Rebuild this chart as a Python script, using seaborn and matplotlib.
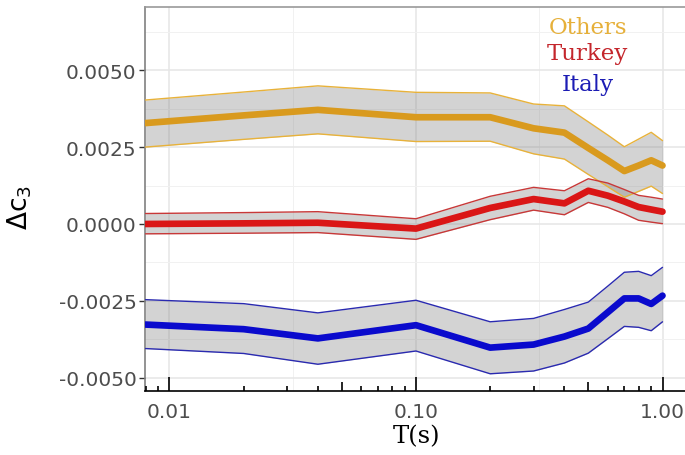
import numpy as np
import pandas as pd
import matplotlib
matplotlib.use("Agg")
import matplotlib.pyplot as plt
import matplotlib.transforms as mtrans
from matplotlib.ticker import FixedLocator, FixedFormatter, NullFormatter
import seaborn as sns

# Spectral periods (s)
periods = [0.008, 0.02, 0.04, 0.1, 0.2, 0.3, 0.4, 0.5, 0.6, 0.7, 0.8, 0.9, 1.0]

# Δc3 per region: mean estimate and confidence band
others_mean = [0.00328, 0.00353, 0.00371, 0.00347, 0.00347, 0.00311, 0.00297,
               0.00247, 0.00207, 0.00172, 0.00190, 0.00207, 0.00190]
others_upper = [0.00403, 0.00429, 0.00449, 0.00428, 0.00426, 0.00390, 0.00384,
                0.00332, 0.00289, 0.00251, 0.00276, 0.00298, 0.00271]
others_lower = [0.00250, 0.00275, 0.00293, 0.00268, 0.00269, 0.00228, 0.00211,
                0.00161, 0.00121, 0.00087, 0.00106, 0.00123, 0.00099]

turkey_mean = [0.00000, 0.00002, 0.00004, -0.00015, 0.00052, 0.00081, 0.00067,
               0.00108, 0.00092, 0.00073, 0.00055, 0.00047, 0.00040]
turkey_upper = [0.00034, 0.00037, 0.00040, 0.00017, 0.00090, 0.00119, 0.00108,
                0.00147, 0.00133, 0.00112, 0.00093, 0.00087, 0.00081]
turkey_lower = [-0.00032, -0.00030, -0.00028, -0.00050, 0.00014, 0.00045, 0.00030,
                0.00070, 0.00054, 0.00033, 0.00012, 0.00006, 0.00001]

italy_mean = [-0.00327, -0.00342, -0.00372, -0.00329, -0.00402, -0.00392, -0.00366,
              -0.00340, -0.00287, -0.00242, -0.00242, -0.00260, -0.00233]
italy_upper = [-0.00246, -0.00259, -0.00289, -0.00248, -0.00318, -0.00307, -0.00278,
               -0.00254, -0.00202, -0.00157, -0.00154, -0.00168, -0.00141]
italy_lower = [-0.00405, -0.00421, -0.00456, -0.00413, -0.00487, -0.00478, -0.00452,
               -0.00420, -0.00373, -0.00333, -0.00336, -0.00347, -0.00318]

regions = ["Others", "Turkey", "Italy"]
line_colors = {"Others": "#D99A1E", "Turkey": "#DA1616", "Italy": "#0A0ACD"}
edge_colors = {"Others": "#E8B23A", "Turkey": "#C83838", "Italy": "#2A2AB0"}
label_colors = {"Others": "#E6B03A", "Turkey": "#C4262C", "Italy": "#1C1CB4"}

y_ticks = [-0.005, -0.0025, 0.0, 0.0025, 0.005]
y_minor = [-0.00375, -0.00125, 0.00125, 0.00375, 0.00625]
x_ticks = [0.01, 0.1, 1.0]
x_tick_labels = ["0.01", "0.10", "1.00"]

frames = []
for name, m, lo, hi in [
    ("Others", others_mean, others_lower, others_upper),
    ("Turkey", turkey_mean, turkey_lower, turkey_upper),
    ("Italy", italy_mean, italy_lower, italy_upper),
]:
    frames.append(pd.DataFrame({"T": periods, "mean": m, "lower": lo,
                                "upper": hi, "region": name}))
df = pd.concat(frames, ignore_index=True)

sns.set_theme(style="white")
plt.rcParams["font.family"] = ["DejaVu Sans"]
plt.rcParams["mathtext.fontset"] = "dejavusans"

fig = plt.figure(figsize=(6.85, 4.56), dpi=100)
ax = fig.add_axes([145 / 685, 64 / 456, 542 / 685, 384.5 / 456])
ax.set_xscale("log")

# confidence ribbons
for name in regions:
    sub = df[df["region"] == name]
    ax.fill_between(sub["T"], sub["lower"], sub["upper"], color="0.5",
                    alpha=0.34, lw=0, zorder=2)

# ribbon outlines
for col in ["lower", "upper"]:
    sns.lineplot(data=df, x="T", y=col, hue="region", hue_order=regions,
                 palette=edge_colors, lw=1.0, legend=False, ax=ax,
                 estimator=None, sort=False, zorder=3)

# central estimates
sns.lineplot(data=df, x="T", y="mean", hue="region", hue_order=regions,
             palette=line_colors, lw=4.8, legend=False, ax=ax,
             estimator=None, sort=False, zorder=4)

ax.set_xlim(0.00796, 1.257)
ax.set_ylim(-0.00543, 0.00707)

# axes ticks and grid
ax.xaxis.set_major_locator(FixedLocator(x_ticks))
ax.xaxis.set_major_formatter(FixedFormatter(x_tick_labels))
ax.xaxis.set_minor_locator(FixedLocator([10 ** -1.5, 10 ** -0.5]))
ax.xaxis.set_minor_formatter(NullFormatter())
ax.yaxis.set_major_locator(FixedLocator(y_ticks))
ax.yaxis.set_major_formatter(FixedFormatter([f"{v:.4f}" for v in y_ticks]))
ax.yaxis.set_minor_locator(FixedLocator(y_minor))
ax.tick_params(axis="x", which="major", length=0, pad=8, labelsize=14.5,
               labelcolor="#4D4D4D")
ax.tick_params(axis="y", which="major", length=4, width=1.0, color="#333333",
               pad=2, labelsize=14.5, labelcolor="#4D4D4D", left=True)
ax.tick_params(which="minor", length=0)
ax.set_axisbelow(True)
ax.grid(which="major", color="#E6E6E6", lw=1.1)
ax.grid(which="minor", color="#F1F1F1", lw=0.7)

# log tick marks along the bottom
trans = mtrans.blended_transform_factory(ax.transData, ax.transAxes)
long_t = [0.01, 0.1, 1.0]
mid_t = [0.05, 0.5]
short_t = [0.008, 0.009, 0.02, 0.03, 0.04, 0.06, 0.07, 0.08, 0.09,
           0.2, 0.3, 0.4, 0.6, 0.7, 0.8, 0.9]
ax.vlines(long_t, 0, 14 / 384.5, transform=trans, color="black", lw=1.2, zorder=5)
ax.vlines(mid_t, 0, 9 / 384.5, transform=trans, color="black", lw=1.2, zorder=5)
ax.vlines(short_t, 0, 5 / 384.5, transform=trans, color="black", lw=1.2, zorder=5)

ax.spines["right"].set_visible(False)
ax.spines["left"].set_color("#808080")
ax.spines["left"].set_linewidth(1.2)
ax.spines["top"].set_color("#999999")
ax.spines["top"].set_linewidth(1.2)
ax.spines["bottom"].set_color("black")
ax.spines["bottom"].set_linewidth(1.2)

ax.set_xlabel("T(s)", family="DejaVu Serif", fontsize=17.5, color="black",
              va="center")
ax.xaxis.set_label_coords(0.5, -0.117)
ax.set_ylabel(r"$\Delta\mathrm{c}_3$", fontsize=19, color="black", va="center")
ax.yaxis.set_label_coords(-0.2306, 0.481)

# region labels
for name, yb in zip(regions, [0.930, 0.863, 0.784]):
    ax.text(0.817, yb, name, transform=ax.transAxes, ha="center", va="baseline",
            family="DejaVu Serif", fontsize=16.5, color=label_colors[name])

fig.savefig("out.png", dpi=100)
